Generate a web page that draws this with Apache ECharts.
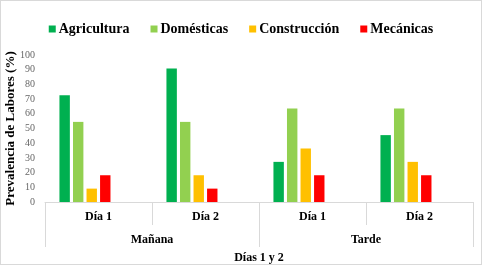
<!DOCTYPE html>
<html>
<head>
<meta charset="utf-8">
<script src="https://cdn.jsdelivr.net/npm/echarts@6/dist/echarts.min.js"></script>
<style>
  html, body { margin: 0; padding: 0; background: #fff; }
  #wrap { position: relative; width: 482px; height: 265px; }
  #chart { width: 482px; height: 265px; }
  #frame { position: absolute; left: 0; top: 0; width: 482px; height: 265px;
           box-sizing: border-box; border: 1px solid #d9d9d9; pointer-events: none; }
</style>
</head>
<body>
<div id="wrap">
  <div id="chart"></div>
  <div id="frame"></div>
</div>
<script>
// datos
const dias = ['Día 1', 'Día 2', 'Día 1', 'Día 2'];
const turnos = ['Mañana', 'Tarde'];
const agricultura = [72.7, 90.9, 27.3, 45.5];
const domesticas = [54.5, 54.5, 63.6, 63.6];
const construccion = [9.1, 18.2, 36.4, 27.3];
const mecanicas = [18.2, 9.1, 18.2, 18.2];
const vacio = [null, null, null, null];

const serif = 'Liberation Serif';
const divider = '#d9d9d9';

let myChart = echarts.init(document.getElementById('chart'));

function barSerie (name, data, color) {
  return {
    name: name,
    type: 'bar',
    data: data,
    barGap: '30%',
    barCategoryGap: '27%',
    itemStyle: { color: color }
  };
}

myChart.setOption({
  animation: false,
  legend: {
    data: ['Agricultura', 'Domésticas', 'Construcción', 'Mecánicas'],
    top: 17,
    left: 'center',
    itemWidth: 7,
    itemHeight: 7,
    itemGap: 21,
    icon: 'rect',
    textStyle: { fontFamily: serif, fontWeight: 'bold', fontSize: 14, color: '#000', padding: [0, 0, 0, -2] }
  },
  grid: { left: 45, right: 9, top: 55, bottom: 63, outerBoundsMode: 'none', containLabel: false },
  xAxis: [
    {
      type: 'category',
      data: dias,
      axisLine: { lineStyle: { color: divider } },
      axisTick: { show: true, interval: 0, length: 23, lineStyle: { color: divider } },
      axisLabel: { margin: 9, fontFamily: serif, fontWeight: 'bold', fontSize: 12, color: '#000' }
    },
    {
      type: 'category',
      data: turnos,
      position: 'bottom',
      offset: 23,
      axisLine: { show: false },
      axisTick: { show: true, interval: 0, length: 22, lineStyle: { color: divider } },
      axisLabel: { margin: 9, fontFamily: serif, fontWeight: 'bold', fontSize: 12, color: '#000' },
      name: 'Días 1 y 2',
      nameLocation: 'middle',
      nameGap: 27,
      nameMoveOverlap: false,
      nameTextStyle: { fontFamily: serif, fontWeight: 'bold', fontSize: 12, color: '#000' }
    }
  ],
  yAxis: {
    type: 'value',
    min: 0,
    max: 100,
    interval: 10,
    splitLine: { show: false },
    axisLine: { show: false },
    axisTick: { show: false },
    axisLabel: { margin: 10, fontFamily: serif, fontSize: 10, color: '#666' },
    name: 'Prevalencia de Labores (%)',
    nameLocation: 'middle',
    nameGap: 28,
    nameMoveOverlap: false,
    nameTextStyle: { fontFamily: serif, fontWeight: 'bold', fontSize: 13, color: '#000' }
  },
  series: [
    barSerie('Agricultura', agricultura, '#00b050'),
    barSerie('Domésticas', domesticas, '#92d050'),
    barSerie('Construcción', construccion, '#ffc000'),
    barSerie('Mecánicas', mecanicas, '#ff0000'),
    // huecos vacios que desplazan el grupo a la izquierda, como en el original
    barSerie('', vacio, 'transparent'),
    barSerie(' ', vacio, 'transparent')
  ]
});
</script>
</body>
</html>
